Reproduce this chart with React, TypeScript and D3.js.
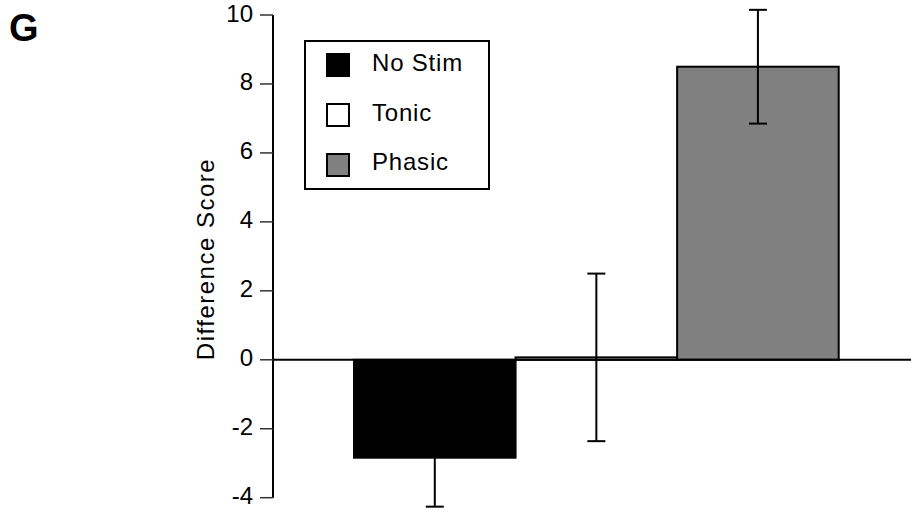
import React from "react";
import * as d3 from "d3";

const categories = ["No Stim", "Tonic", "Phasic"];
const means = [-2.84, 0.07, 8.5];
const sems = [1.42, 2.43, 1.65];
const fills = ["#000000", "#ffffff", "#808080"];
const yTicks = [-4, -2, 0, 2, 4, 6, 8, 10];

export default function App() {
  const W = 911, H = 510;
  const y = d3.scaleLinear().domain([-4, 10]).range([497.7, 15]);
  const x = d3.scaleBand().domain(categories).range([354, 838.7]).padding(0);
  const axisX = 273;
  const font = "'Liberation Sans', Arial, Helvetica, sans-serif";
  const capW = 9;
  const legendRows = categories.map((c, i) => ({ c, i }));
  return (
    <svg width={W} height={H} style={{ position: "absolute", left: 0, top: 0 }} fontFamily={font}>
      <rect x={0} y={0} width={W} height={H} fill="#fff" />
      <text x={9} y={41} fontSize={38} fontWeight="bold">G</text>
      {/* y axis */}
      <line x1={axisX} x2={axisX} y1={y(10)} y2={y(-4)} stroke="#000" strokeWidth={2} />
      {yTicks.map((t) => (
        <g key={t}>
          <line x1={260} x2={axisX} y1={y(t)} y2={y(t)} stroke="#333" strokeWidth={1.5} />
          <text x={253} y={y(t) + 6.5} fontSize={24} textAnchor="end">{t}</text>
        </g>
      ))}
      <text transform={`translate(213.5,259) rotate(-90)`} fontSize={24} letterSpacing={1.5} textAnchor="middle">Difference Score</text>
      {/* bars */}
      {categories.map((c, i) => {
        const v = means[i];
        const top = Math.min(y(v), y(0));
        const h = Math.abs(y(v) - y(0));
        return (
          <rect key={c} x={x(c)} y={top} width={x.bandwidth()} height={Math.max(h, 0.5)}
            fill={fills[i]} stroke="#000" strokeWidth={2} />
        );
      })}
      <line x1={axisX} x2={W} y1={y(0)} y2={y(0)} stroke="#000" strokeWidth={2} />
      {/* error bars */}
      {categories.map((c, i) => {
        const cx = (x(c) as number) + x.bandwidth() / 2;
        const hi = y(means[i] + sems[i]);
        const lo = y(means[i] - sems[i]);
        return (
          <g key={c} stroke="#000" strokeWidth={2}>
            <line x1={cx} x2={cx} y1={hi} y2={lo} />
            <line x1={cx - capW} x2={cx + capW} y1={hi} y2={hi} />
            <line x1={cx - capW} x2={cx + capW} y1={lo} y2={lo} />
          </g>
        );
      })}
      {/* legend */}
      <rect x={305} y={41} width={184} height={148} fill="#fff" stroke="#000" strokeWidth={2} />
      {legendRows.map(({ c, i }) => (
        <g key={c}>
          <rect x={327} y={54 + i * 50} width={22} height={22} fill={fills[i]} stroke="#000" strokeWidth={2} />
          <text x={372} y={71 + i * 49.5} fontSize={24} letterSpacing={0.8}>{c}</text>
        </g>
      ))}
    </svg>
  );
}
